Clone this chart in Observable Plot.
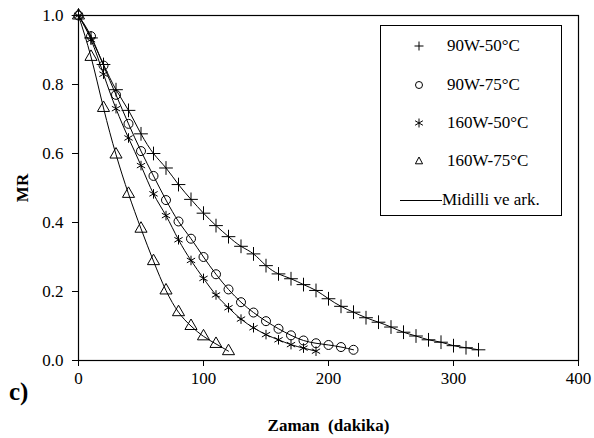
<!DOCTYPE html>
<html>
<head>
<meta charset="utf-8">
<script src="https://cdn.jsdelivr.net/npm/d3@7"></script>
<script src="https://cdn.jsdelivr.net/npm/@observablehq/plot@0.6"></script>
<style>
  html, body { margin: 0; padding: 0; background: #fff; }
  #wrap { position: relative; width: 594px; height: 438px; font-family: "Liberation Serif", "Times New Roman", serif; }
  #wrap svg { position: absolute; left: 0; top: 0; }
  #wrap svg, #wrap svg text, #wrap svg g { font-family: "Liberation Serif", "Times New Roman", serif !important; }
  #wrap svg g[aria-label$="axis label"] text, #wrap svg g[aria-label$="axis label"] { font-weight: bold; font-size: 17px; }
  #legend { position: absolute; left: 380px; top: 25px; width: 182px; height: 191px; border: 1px solid #000; background: #fff; box-sizing: border-box; font-size: 17px; color: #000; }
  .row { position: absolute; left: 0; height: 20px; line-height: 20px; }
  .row svg { position: absolute; top: 0; }
  .row span { position: absolute; white-space: nowrap; }
  #tag { position: absolute; left: 9px; top: 378px; font-weight: bold; font-size: 25px; color: #000; }
</style>
</head>
<body>
<div id="wrap"></div>
<script>
// Time (dakika), sampled every 10 min
const times = [0,10,20,30,40,50,60,70,80,90,100,110,120,130,140,150,160,170,180,190,200,210,220,230,240,250,260,270,280,290,300,310,320];

// MR values
const mr90W50 = [1.0,0.935,0.858,0.785,0.725,0.657,0.600,0.558,0.510,0.467,0.427,0.391,0.359,0.331,0.309,0.275,0.251,0.237,0.220,0.203,0.179,0.157,0.140,0.124,0.111,0.097,0.082,0.071,0.060,0.053,0.043,0.037,0.031];
const mr90W75 = [1.0,0.940,0.855,0.770,0.686,0.607,0.535,0.465,0.403,0.353,0.300,0.250,0.206,0.169,0.139,0.114,0.092,0.073,0.058,0.050,0.045,0.039,0.031];
const mr160W50 = [1.0,0.930,0.830,0.730,0.645,0.565,0.483,0.420,0.350,0.290,0.238,0.190,0.153,0.120,0.095,0.075,0.060,0.046,0.036,0.027];
const mr160W75 = [1.0,0.880,0.732,0.597,0.483,0.382,0.288,0.203,0.140,0.100,0.070,0.048,0.027];

const seriesNames = ["90W-50°C","90W-75°C","160W-50°C","160W-75°C"];
const seriesSymbols = ["plus","circle","asterisk","triangle"];
const modelName = "Midilli ve ark.";

const xTicks = [0,100,200,300,400];
const yTicks = [0,0.2,0.4,0.6,0.8,1.0];

const seriesValues = [mr90W50, mr90W75, mr160W50, mr160W75];
const rows = seriesValues.flatMap((vals, s) => vals.map((v, i) => ({t: times[i], mr: v, series: seriesNames[s]})));

const plot = Plot.plot({
  width: 594,
  height: 438,
  marginLeft: 78,
  marginRight: 16,
  marginTop: 15,
  marginBottom: 78,
  style: {fontFamily: "'Liberation Serif', 'Times New Roman', serif", fontSize: "17px", color: "#000", background: "#fff"},
  x: {domain: [0, 400]},
  y: {domain: [0, 1]},
  symbol: {domain: seriesNames, range: seriesSymbols},
  marks: [
    Plot.frame({stroke: "#000", strokeWidth: 1.2}),
    Plot.axisX({ticks: xTicks, tickSize: 6, tickPadding: 5, label: "Zaman  (dakika)", labelAnchor: "center", labelArrow: "none", labelOffset: 70, fontSize: 17}),
    Plot.axisY({ticks: yTicks, tickSize: 6, tickPadding: 9, tickFormat: d3.format(".1f"), label: "MR", labelAnchor: "center", labelArrow: "none", labelOffset: 63, fontSize: 17}),
    Plot.line(rows, {x: "t", y: "mr", z: "series", stroke: "#000", strokeWidth: 1, curve: "natural"}),
    Plot.dot(rows, {x: "t", y: "mr", symbol: "series", stroke: "#000", fill: "none", strokeWidth: 1, r: 4.5})
  ]
});
const wrap = document.getElementById("wrap");
wrap.appendChild(plot);

// legend
const legend = document.createElement("div");
legend.id = "legend";
const symPaths = {
  plus: "M-4.5,0H4.5M0,-4.5V4.5",
  asterisk: "M0,-4.5V4.5M-3.9,-2.25L3.9,2.25M-3.9,2.25L3.9,-2.25",
  triangle: "M0,-4L3.6,2.8L-3.6,2.8Z"
};
const rowTops = [10, 49, 87, 125];
seriesNames.forEach((name, i) => {
  const r = document.createElement("div");
  r.className = "row";
  r.style.top = rowTops[i] + "px";
  const sym = seriesSymbols[i];
  const inner = sym === "circle"
    ? `<circle r="3.5" fill="none" stroke="#000" stroke-width="1"/>`
    : `<path d="${symPaths[sym]}" fill="none" stroke="#000" stroke-width="1"/>`;
  r.innerHTML = `<svg width="20" height="20" style="left:28px" viewBox="-10 -10 20 20">${inner}</svg><span style="left:66px">${name}</span>`;
  legend.appendChild(r);
});
const mrow = document.createElement("div");
mrow.className = "row";
mrow.style.top = "164px";
mrow.innerHTML = `<svg width="44" height="20" style="left:19px"><line x1="0" x2="42" y1="10.5" y2="10.5" stroke="#000" stroke-width="1"/></svg><span style="left:61px">${modelName}</span>`;
legend.appendChild(mrow);
wrap.appendChild(legend);

const tag = document.createElement("div");
tag.id = "tag";
tag.textContent = "c)";
wrap.appendChild(tag);
</script>
</body>
</html>
